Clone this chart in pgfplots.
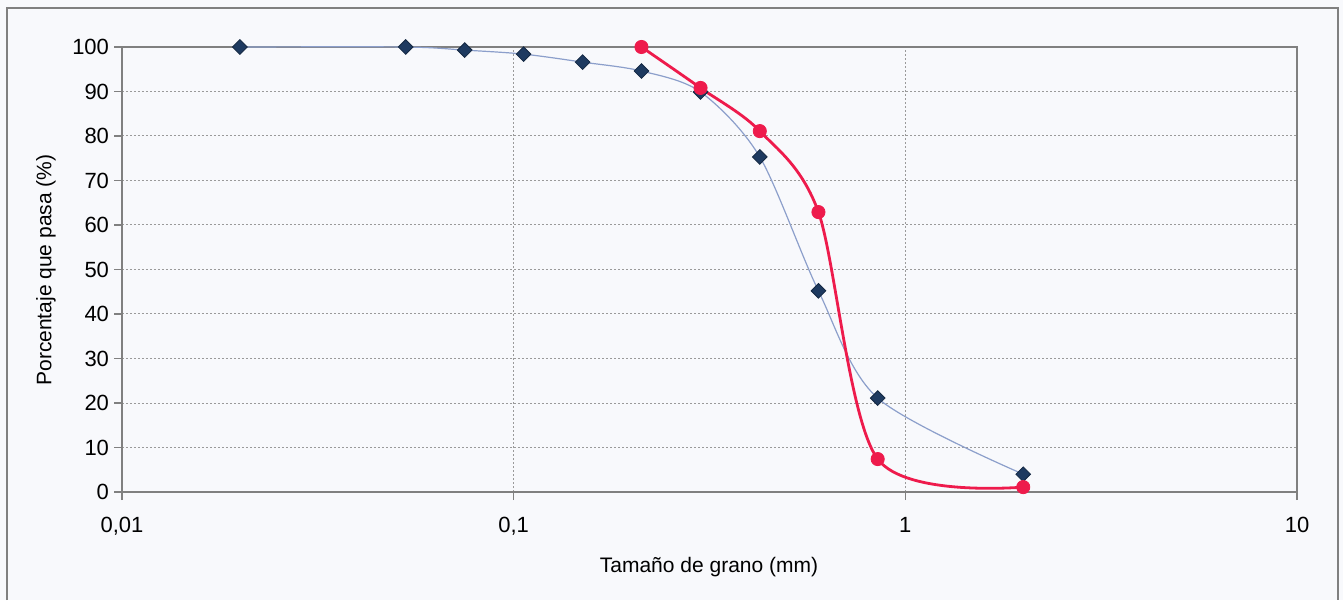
\documentclass[border=0pt]{standalone}
\usepackage{fontspec}
\setmainfont{Liberation Sans}
\usepackage{pgfplots}
\pgfplotsset{compat=1.18}
\definecolor{marcaazul}{HTML}{1E3A60}
\definecolor{lineaazul}{HTML}{8C9FCB}
\definecolor{rojo}{HTML}{EE1B4C}
\definecolor{borde}{HTML}{808080}
\definecolor{rejilla}{HTML}{9A9A9A}
\definecolor{fondo}{HTML}{F8F9FC}

\begin{document}
\begin{tikzpicture}[x=0.5pt,y=0.5pt]
\useasboundingbox (0,0) rectangle (1343,600);
\fill[fondo] (0,0) rectangle (1343,600);
\draw[borde, line width=0.7pt] (7,0) -- (7,592) -- (1338,592) -- (1338,0);
\begin{axis}[
    at={(61pt,54pt)}, anchor=south west,
    scale only axis,
    width=587.5pt, height=222.5pt,
    xmode=log,
    xmin=0.01, xmax=10,
    ymin=0, ymax=100,
    xtick={0.01,0.1,1,10},
    xticklabels={{0,01},{0,1},1,10},
    xminorticks=false,
    ytick={0,10,...,100},
    xtick pos=bottom, ytick pos=left,
    axis line style={borde, line width=0.7pt},
    tick style={borde, line width=0.6pt},
    tick align=outside,
    major tick length=4pt,
    grid=major,
    major grid style={rejilla, line width=0.5pt, dash pattern=on 1pt off 1pt},
    /pgf/number format/assume math mode=true,
    ticklabel style={font=\fontsize{11}{13}\selectfont},
    xticklabel style={yshift=-5pt},
    yticklabel style={xshift=1pt},
    clip=false,
]
% Muestra 1 (rombos azules)
\addplot[lineaazul, line width=0.6pt, smooth, tension=0.5,
    mark=square*, mark size=2.6pt,
    mark options={rotate=45, fill=marcaazul, draw=marcaazul!70!black, line width=0.4pt}]
    coordinates {
    (0.02, 100)
    (0.053, 100)
    (0.075, 99.3)
    (0.106, 98.4)
    (0.15, 96.6)
    (0.212, 94.6)
    (0.3, 89.9)
    (0.425, 75.3)
    (0.6, 45.2)
    (0.85, 21.1)
    (2.0, 4.0)
};
% Muestra 2 (circulos rojos)
\addplot[rojo, line width=1.4pt, smooth, tension=0.5,
    mark=*, mark size=3.3pt,
    mark options={fill=rojo, draw=rojo, line width=0.4pt}]
    coordinates {
    (0.212, 100)
    (0.3, 90.8)
    (0.425, 81.1)
    (0.6, 62.9)
    (0.85, 7.4)
    (2.0, 1.1)
};
\end{axis}
\node[rotate=90, font=\fontsize{10.5}{12}\selectfont] at (46,330) {Porcentaje que pasa (\%)};
\node[font=\fontsize{10.5}{12}\selectfont] at (709,33) {Tamaño de grano (mm)};
\end{tikzpicture}
\end{document}
